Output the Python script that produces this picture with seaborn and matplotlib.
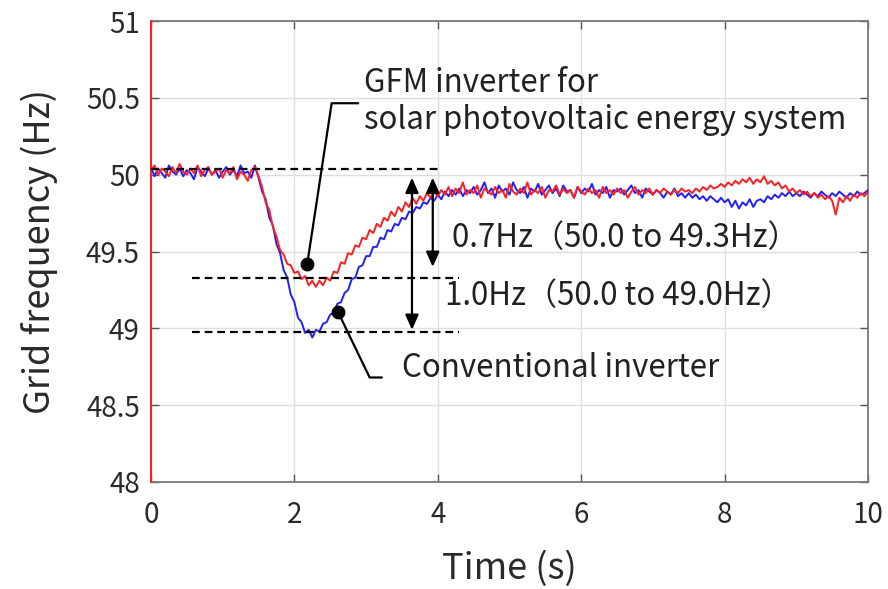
import numpy as np
import pandas as pd
import seaborn as sns
import matplotlib.pyplot as plt

# ---------------------------------------------------------------
# Data read off the picture (sampled every 0.05 s, 0 to 10 s)
# ---------------------------------------------------------------
time_s = np.round(np.arange(201) * 0.05, 2)

freq_conventional = [
    50.05, 49.99, 50.04, 50.01, 49.98, 50.06, 50.02, 50.00, 50.04, 49.99,
    50.03, 50.01, 49.97, 50.05, 50.02, 49.99, 50.04, 50.00, 50.03, 49.98,
    50.02, 50.05, 50.00, 50.03, 49.99, 50.06, 50.01, 50.02, 49.98, 50.06,
    49.98, 49.89, 49.84, 49.72, 49.67, 49.55, 49.49, 49.38, 49.33, 49.22,
    49.17, 49.07, 49.04, 48.97, 48.99, 48.94, 48.99, 48.98, 49.03, 49.04,
    49.09, 49.10, 49.16, 49.17, 49.23, 49.25, 49.32, 49.33, 49.40, 49.41,
    49.47, 49.47, 49.53, 49.53, 49.59, 49.58, 49.64, 49.63, 49.68, 49.67,
    49.72, 49.71, 49.76, 49.75, 49.79, 49.78, 49.82, 49.81, 49.85, 49.83,
    49.87, 49.84, 49.89, 49.86, 49.90, 49.87, 49.91, 49.86, 49.90, 49.88,
    49.92, 49.87, 49.90, 49.95, 49.88, 49.91, 49.85, 49.93, 49.89, 49.91,
    49.87, 49.95, 49.90, 49.88, 49.92, 49.85, 49.91, 49.89, 49.94, 49.87,
    49.90, 49.93, 49.88, 49.91, 49.86, 49.93, 49.89, 49.90, 49.85, 49.92,
    49.88, 49.91, 49.89, 49.94, 49.87, 49.90, 49.88, 49.92, 49.85, 49.90,
    49.89, 49.91, 49.87, 49.90, 49.93, 49.88, 49.90, 49.85, 49.91, 49.89,
    49.87, 49.90, 49.88, 49.85, 49.89, 49.87, 49.91, 49.86, 49.88, 49.85,
    49.88, 49.85, 49.87, 49.84, 49.86, 49.83, 49.86, 49.84, 49.82, 49.85,
    49.82, 49.84, 49.79, 49.83, 49.78, 49.82, 49.80, 49.84, 49.79, 49.83,
    49.84, 49.82, 49.86, 49.84, 49.87, 49.85, 49.88, 49.86, 49.89, 49.86,
    49.88, 49.86, 49.89, 49.87, 49.85, 49.88, 49.86, 49.89, 49.87, 49.85,
    49.88, 49.86, 49.89, 49.87, 49.85, 49.88, 49.86, 49.89, 49.87, 49.88, 49.90,
]

freq_gfm = [
    50.03, 50.06, 50.00, 50.04, 50.02, 49.99, 50.05, 50.01, 50.07, 50.02,
    50.00, 50.04, 50.01, 50.06, 49.99, 50.03, 50.05, 50.00, 50.02, 50.04,
    49.98, 50.03, 50.01, 50.05, 49.97, 50.02, 50.00, 49.96, 50.03, 50.05,
    49.99, 49.92, 49.82, 49.77, 49.66, 49.60, 49.51, 49.48, 49.42, 49.41,
    49.36, 49.37, 49.32, 49.34, 49.28, 49.31, 49.27, 49.31, 49.28, 49.33,
    49.31, 49.37, 49.36, 49.43, 49.42, 49.49, 49.48, 49.54, 49.53, 49.59,
    49.58, 49.64, 49.62, 49.68, 49.66, 49.72, 49.70, 49.76, 49.73, 49.79,
    49.76, 49.82, 49.79, 49.85, 49.81, 49.86, 49.83, 49.88, 49.85, 49.89,
    49.86, 49.90, 49.87, 49.92, 49.86, 49.91, 49.88, 49.95, 49.87, 49.90,
    49.88, 49.93, 49.85, 49.91, 49.89, 49.87, 49.92, 49.88, 49.90, 49.85,
    49.94, 49.89, 49.87, 49.91, 49.88, 49.95, 49.87, 49.90, 49.88, 49.92,
    49.85, 49.90, 49.89, 49.93, 49.87, 49.91, 49.88, 49.90, 49.85, 49.92,
    49.89, 49.87, 49.91, 49.88, 49.90, 49.85, 49.92, 49.88, 49.90, 49.87,
    49.91, 49.88, 49.90, 49.85, 49.89, 49.92, 49.87, 49.90, 49.88, 49.91,
    49.87, 49.90, 49.88, 49.91, 49.89, 49.87, 49.90, 49.88, 49.91, 49.89,
    49.90, 49.88, 49.91, 49.89, 49.92, 49.90, 49.93, 49.91, 49.92, 49.94,
    49.92, 49.95, 49.93, 49.96, 49.94, 49.97, 49.95, 49.98, 49.94, 49.97,
    49.95, 49.99, 49.94, 49.96, 49.93, 49.95, 49.91, 49.93, 49.89, 49.91,
    49.88, 49.90, 49.87, 49.89, 49.86, 49.88, 49.85, 49.87, 49.84, 49.86,
    49.83, 49.74, 49.85, 49.82, 49.86, 49.83, 49.87, 49.85, 49.88, 49.86, 49.89,
]

# the red trace starts with a full-scale spike at t = 0
spike_time = [0.0, 0.0]
spike_freq = [48.0, 51.0]

y_ticks = [48, 48.5, 49, 49.5, 50, 50.5, 51]
y_tick_labels = ["48", "48.5", "49", "49.5", "50", "50.5", "51"]
x_ticks = [0, 2, 4, 6, 8, 10]

df_conv = pd.DataFrame({"time": time_s, "freq": freq_conventional})
df_gfm = pd.DataFrame({"time": np.concatenate([spike_time, time_s]),
                       "freq": np.concatenate([spike_freq, freq_gfm])})

# ---------------------------------------------------------------
# Figure
# ---------------------------------------------------------------
sns.set_style("ticks")
plt.rcParams["font.family"] = ["Noto Sans CJK JP", "DejaVu Sans"]

fig, ax = plt.subplots(figsize=(8.88, 5.89), dpi=100)
fig.subplots_adjust(left=0.170, right=0.9775, bottom=0.1817, top=0.9643)

ax.grid(True, color="#dedede", linewidth=1.0, zorder=0)

sns.lineplot(data=df_conv, x="time", y="freq", color="#1f1fff", linewidth=1.4,
             estimator=None, sort=False, ax=ax, zorder=3)
sns.lineplot(data=df_gfm, x="time", y="freq", color="#ff1f1f", linewidth=1.4,
             estimator=None, sort=False, ax=ax, zorder=4)
ax.lines[-1].set_clip_on(False)

ax.set_xlim(0, 10)
ax.set_ylim(48, 51)
ax.set_xticks(x_ticks)
ax.set_yticks(y_ticks)
ax.set_yticklabels(y_tick_labels)
ax.tick_params(direction="in", length=6, width=1.0, color="#555555",
               labelsize=20, labelcolor="#2a2a2a", top=True, right=True, pad=8)
ax.tick_params(axis="x", pad=13)
for s in ax.spines.values():
    s.set_color("#7a7a7a")
    s.set_linewidth(1.3)

ax.set_xlabel("Time (s)", fontsize=26, color="#2a2a2a", labelpad=15)
ax.set_ylabel("Grid frequency (Hz)", fontsize=26, color="#2a2a2a", labelpad=20)

# dashed reference levels
dash = (0, (3.5, 2.2))
ax.plot([0.0, 4.03], [50.04, 50.04], color="black", lw=1.6, ls=dash, zorder=5)
ax.plot([0.57, 4.3], [49.33, 49.33], color="black", lw=1.6, ls=dash, zorder=5)
ax.plot([0.57, 4.3], [48.975, 48.975], color="black", lw=1.6, ls=dash, zorder=5)

# double arrows
arrow = dict(arrowstyle="<|-|>,head_length=0.9,head_width=0.4", color="black",
             lw=1.6, shrinkA=0, shrinkB=0)
ax.annotate("", xy=(3.64, 48.99), xytext=(3.64, 49.98), arrowprops=arrow, zorder=6)
ax.annotate("", xy=(3.93, 49.40), xytext=(3.93, 49.98), arrowprops=arrow, zorder=6)

txt = dict(fontsize=22.5, color="#222222", va="baseline", ha="left")
ax.text(4.2, 49.53, "0.7Hz（50.0 to 49.3Hz）", zorder=7, **txt)
ax.text(4.1, 49.155, "1.0Hz（50.0 to 49.0Hz）", zorder=7, **txt)

# leader for GFM inverter
ax.plot([2.18, 2.52, 2.89], [49.42, 50.465, 50.465], color="black", lw=1.6, zorder=6)
ax.plot([2.18], [49.42], "o", color="black", ms=9, zorder=7)
ax.text(2.97, 50.537, "GFM inverter for", **txt)
ax.text(2.97, 50.30, "solar photovoltaic energy system", **txt)

# leader for conventional inverter
ax.plot([2.61, 3.05, 3.22], [49.105, 48.68, 48.68], color="black", lw=1.6, zorder=6)
ax.plot([2.61], [49.105], "o", color="black", ms=9, zorder=7)
ax.text(3.5, 48.68, "Conventional inverter", **txt)

fig.savefig("out.png", dpi=100)
